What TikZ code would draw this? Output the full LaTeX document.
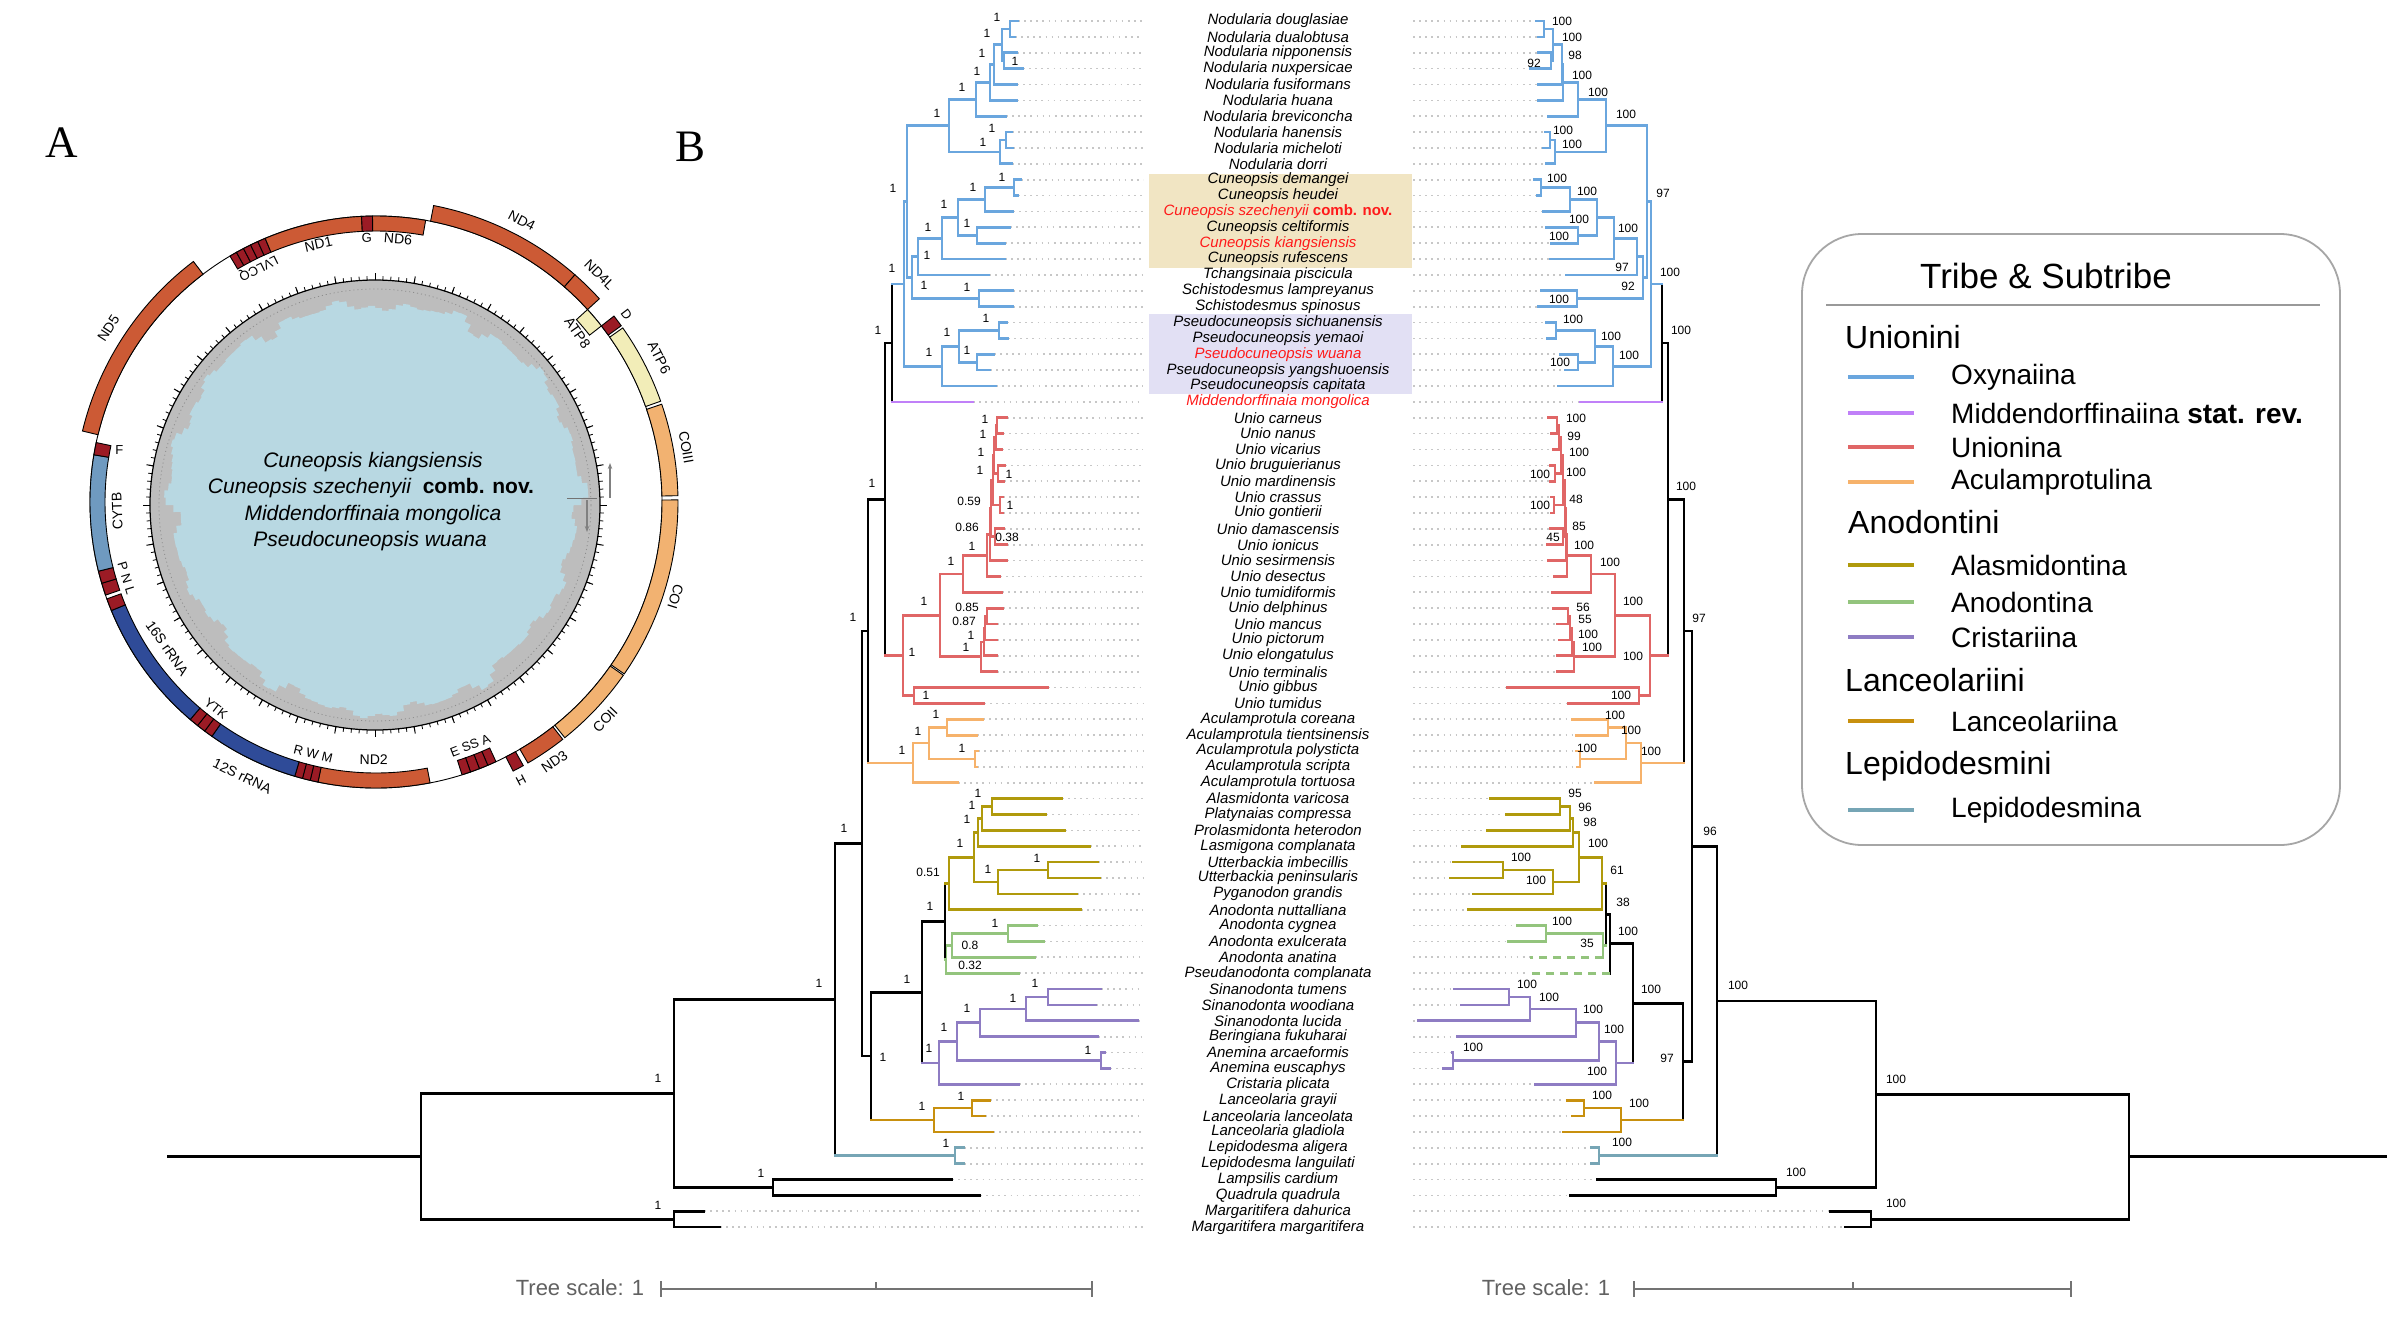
\documentclass[tikz,border=0pt]{standalone}
\usepackage{fontspec}
\setmainfont{Liberation Sans}
\newfontfamily\serifA{Liberation Serif}
\usetikzlibrary{calc,arrows.meta}
\definecolor{cOx}{HTML}{6AA6DE}
\definecolor{cMid}{HTML}{C080F8}
\definecolor{cUn}{HTML}{E06666}
\definecolor{cAc}{HTML}{F6B26B}
\definecolor{cAl}{HTML}{B09A0C}
\definecolor{cAn}{HTML}{93C47D}
\definecolor{cCr}{HTML}{8E7CC3}
\definecolor{cLa}{HTML}{C8900E}
\definecolor{cLe}{HTML}{76A5B5}
\definecolor{gND}{HTML}{CC5A35}
\definecolor{gCO}{HTML}{F2B271}
\definecolor{gATP}{HTML}{F2EDB8}
\definecolor{gCY}{HTML}{6F9AC0}
\definecolor{gRR}{HTML}{2F4B98}
\definecolor{gT}{HTML}{9B1B25}
\definecolor{hlTan}{HTML}{F1E5C3}
\definecolor{hlLav}{HTML}{E2E0F4}
\definecolor{gcGray}{HTML}{BDBDBD}
\definecolor{gcBlue}{HTML}{B8D8E2}
\definecolor{spred}{HTML}{FF1A1A}
\tikzset{
 br/.style={line width=2.7pt, line cap=rect},
 c-ox/.style={draw=cOx}, c-mid/.style={draw=cMid}, c-un/.style={draw=cUn},
 c-ac/.style={draw=cAc}, c-al/.style={draw=cAl}, c-an/.style={draw=cAn},
 c-anD/.style={draw=cAn, dash pattern=on 8pt off 6pt, line cap=butt},
 c-cr/.style={draw=cCr}, c-la/.style={draw=cLa}, c-le/.style={draw=cLe},
 c-k/.style={draw=black},
 lead/.style={draw=black!22, line width=1.7pt, dash pattern=on 1.7pt off 4.4pt},
 sp/.style={font=\fontsize{15}{15}\selectfont\itshape, inner sep=0pt},
 sup/.style={font=\fontsize{12}{12}\selectfont, inner sep=0pt},
 gl/.style={font=\fontsize{14}{14}\selectfont, inner sep=0pt},
 gls/.style={font=\fontsize{13}{13}\selectfont, inner sep=0pt},
 lgh/.style={font=\fontsize{32}{32}\selectfont, anchor=west, inner sep=0pt},
 lgi/.style={font=\fontsize{28}{28}\selectfont, anchor=west, inner sep=0pt},
 lgl/.style={line width=4.5pt},
 tsc/.style={font=\fontsize{22}{22}\selectfont, text=black!62, inner sep=0pt},
 tbar/.style={draw=black!55, line width=2pt},
}
\newcommand\hbr[2]{\edef\tmpH{\noexpand\draw[br,c-\csname tc@#2\endcsname] (#1 |- #2) -- (#2);}\tmpH}
\newcommand\nd[5]{%
 \coordinate (m#1) at ($(#3)!0.5!(#4)$);
 \coordinate (x#1) at (#2,0);
 \coordinate (#1) at (x#1 |- m#1);
 \expandafter\xdef\csname tc@#1\endcsname{#5}%
 \draw[br,c-#5] (#1 |- #3) -- (#1 |- #4);
 \hbr{#1}{#3}\hbr{#1}{#4}}
\newcommand\gs[5]{\filldraw[fill=#5, draw=black, line width=0.9pt]
 ({90-(#1)}:#4) arc[start angle={90-(#1)}, end angle={90-(#2)}, radius=#4]
 -- ({90-(#2)}:#3) arc[start angle={90-(#2)}, end angle={90-(#1)}, radius=#3] -- cycle;}
\def\Ri{271}\def\Rm{286}\def\Ro{302}
\begin{document}
\begin{tikzpicture}[x=1pt,y=-1pt]
\path[use as bounding box, fill=white] (0,0) rectangle (2401,1320);
% highlight boxes
\fill[hlTan] (1149,174) rectangle (1412,268);
\fill[hlLav] (1149,314) rectangle (1412,394);
% tips
\foreach \ri/\xl/\xr/\cc in {
1/1018/1536/ox,2/1015/1538/ox,3/1017/1538/ox,4/1023/1530/ox,5/1017/1538/ox,6/1017/1538/ox,
7/1006/1548/ox,8/1012/1545/ox,9/1013/1543/ox,10/1012/1546/ox,11/1021/1534/ox,12/1018/1537/ox,
13/1013/1543/ox,14/1010/1546/ox,15/1005/1551/ox,16/1005/1550/ox,17/989/1566/ox,18/1013/1541/ox,
19/1013/1538/ox,20/1007/1546/ox,21/1008/1547/ox,22/994/1560/ox,23/990/1565/ox,24/996/1558/ox,
25/973/1580/mid,26/1007/1548/un,27/1003/1551/un,28/1002/1553/un,29/1005/1550/un,30/1004/1550/un,
31/1003/1551/un,32/1003/1551/un,33/1004/1550/un,34/1007/1547/un,35/1007/1548/un,36/1000/1554/un,
37/1002/1552/un,38/1003/1553/un,39/997/1557/un,40/997/1559/un,41/997/1557/un,42/997/1557/un,
43/1048/1507/un,44/984/1568/un,45/983/1572/ac,46/977/1576/ac,47/978/1576/ac,48/977/1577/ac,
49/958/1595/ac,50/1062/1490/al,51/1046/1506/al,52/1065/1487/al,53/1090/1462/al,54/1098/1453/al,
55/1100/1450/al,56/1077/1473/al,57/1081/1468/al,58/1037/1517/an,59/1044/1508/an,60/1035/1530/an,
61/1019/1527/an,62/1101/1454/cr,63/1096/1461/cr,64/1138/1418/cr,65/1098/1457/cr,66/1105/1452/cr,
67/1110/1443/cr,68/1019/1535/cr,69/990/1567/la,70/985/1572/la,71/993/1563/la,72/964/1591/le,
73/964/1591/le,74/952/1597/k,75/980/1570/k,76/704/1830/k,77/720/1845/k}{
 \coordinate (L\ri) at (\xl,{21+(\ri-1)*15.87});
 \coordinate (R\ri) at (\xr,{21+(\ri-1)*15.87});
 \expandafter\xdef\csname tc@L\ri\endcsname{\cc}
 \expandafter\xdef\csname tc@R\ri\endcsname{\cc}
}
\expandafter\gdef\csname tc@R60\endcsname{anD}
\expandafter\gdef\csname tc@R61\endcsname{anD}
% leaders
\coordinate (ldot) at (1143,0); \coordinate (rdot) at (1413,0);
\foreach \ri in {1,...,77}{\draw[lead] (L\ri) -- (L\ri -| ldot); \draw[lead] (rdot |- R\ri) -- (R\ri);}
% species names
\foreach \ri/\nm in {1/Nodularia douglasiae,2/Nodularia dualobtusa,3/Nodularia nipponensis,
4/Nodularia nuxpersicae,5/Nodularia fusiformans,6/Nodularia huana,7/Nodularia breviconcha,
8/Nodularia hanensis,9/Nodularia micheloti,10/Nodularia dorri,11/Cuneopsis demangei,
12/Cuneopsis heudei,13/{\color{spred}Cuneopsis szechenyii \textbf{\upshape comb. nov.}},
14/Cuneopsis celtiformis,15/{\color{spred}Cuneopsis kiangsiensis},16/Cuneopsis rufescens,
17/Tchangsinaia piscicula,18/Schistodesmus lampreyanus,19/Schistodesmus spinosus,
20/Pseudocuneopsis sichuanensis,21/Pseudocuneopsis yemaoi,22/{\color{spred}Pseudocuneopsis wuana},
23/Pseudocuneopsis yangshuoensis,24/Pseudocuneopsis capitata,25/{\color{spred}Middendorffinaia mongolica},
26/Unio carneus,27/Unio nanus,28/Unio vicarius,29/Unio bruguierianus,30/Unio mardinensis,
31/Unio crassus,32/Unio gontierii,33/Unio damascensis,34/Unio ionicus,35/Unio sesirmensis,
36/Unio desectus,37/Unio tumidiformis,38/Unio delphinus,39/Unio mancus,40/Unio pictorum,
41/Unio elongatulus,42/Unio terminalis,43/Unio gibbus,44/Unio tumidus,45/Aculamprotula coreana,
46/Aculamprotula tientsinensis,47/Aculamprotula polysticta,48/Aculamprotula scripta,
49/Aculamprotula tortuosa,50/Alasmidonta varicosa,51/Platynaias compressa,52/Prolasmidonta heterodon,
53/Lasmigona complanata,54/Utterbackia imbecillis,55/Utterbackia peninsularis,56/Pyganodon grandis,
57/Anodonta nuttalliana,58/Anodonta cygnea,59/Anodonta exulcerata,60/Anodonta anatina,
61/Pseudanodonta complanata,62/Sinanodonta tumens,63/Sinanodonta woodiana,64/Sinanodonta lucida,
65/Beringiana fukuharai,66/Anemina arcaeformis,67/Anemina euscaphys,68/Cristaria plicata,
69/Lanceolaria grayii,70/Lanceolaria lanceolata,71/Lanceolaria gladiola,72/Lepidodesma aligera,
73/Lepidodesma languilati,74/Lampsilis cardium,75/Quadrula quadrula,76/Margaritifera dahurica,
77/Margaritifera margaritifera}{
 \node[sp] (S\ri) at (1278,{21+(\ri-1)*15.87}) {\nm};
}
% ---------------- left tree ----------------
\nd{Ln1}{1010}{L1}{L2}{ox}
\nd{Ln2}{1004}{L3}{L4}{ox}
\nd{Ln3}{1002}{Ln1}{Ln2}{ox}
\nd{Ln4}{994}{Ln3}{L5}{ox}
\nd{Ln5}{990}{Ln4}{L6}{ox}
\nd{Ln6}{976}{Ln5}{L7}{ox}
\nd{Ln7}{1006}{L8}{L9}{ox}
\nd{Ln8}{1000}{Ln7}{L10}{ox}
\nd{Ln9}{949}{Ln6}{Ln8}{ox}
\nd{Lc1}{1014}{L11}{L12}{ox}
\nd{Lc2}{985}{Lc1}{L13}{ox}
\nd{Lc3}{977}{L14}{L15}{ox}
\nd{Lc4}{958}{Lc2}{Lc3}{ox}
\nd{Lc5}{942}{Lc4}{L16}{ox}
\nd{Lc6}{918}{Lc5}{L17}{ox}
\nd{Ls1}{979}{L18}{L19}{ox}
\nd{Lc7}{912}{Lc6}{Ls1}{ox}
\nd{Lp1}{999}{L20}{L21}{ox}
\nd{Lp2}{977}{L22}{L23}{ox}
\nd{Lp3}{959}{Lp1}{Lp2}{ox}
\nd{Lp4}{942}{Lp3}{L24}{ox}
\nd{Lo1}{907}{Ln9}{Lc7}{ox}
\nd{Lo2}{904}{Lo1}{Lp4}{ox}
\nd{Lm1}{892}{Lo2}{L25}{k}
\nd{LuA}{997}{L26}{L27}{un}
\nd{LuB}{996}{LuA}{L28}{un}
\nd{LuC}{998}{L29}{L30}{un}
\nd{LuD}{994}{LuB}{LuC}{un}
\nd{LuE}{1000}{L31}{L32}{un}
\nd{LuF}{993}{LuD}{LuE}{un}
\nd{LuG}{995}{L33}{L34}{un}
\nd{LuH}{991}{LuF}{LuG}{un}
\nd{LuI}{990}{LuH}{L35}{un}
\nd{LuJ}{987}{LuI}{L36}{un}
\nd{LuK}{963}{LuJ}{L37}{un}
\nd{LuLa}{987}{L38}{L39}{un}
\nd{LuLb}{985}{LuLa}{L40}{un}
\nd{LuLc}{984}{LuLb}{L41}{un}
\nd{LuLd}{981}{LuLc}{L42}{un}
\nd{LuM}{940}{LuK}{LuLd}{un}
\nd{LuN}{914}{L43}{L44}{un}
\nd{LUn}{903}{LuM}{LuN}{un}
\nd{Lm2}{885}{Lm1}{LUn}{k}
\nd{La1}{947}{L45}{L46}{ac}
\nd{La2}{975}{L47}{L48}{ac}
\nd{La3}{929}{La1}{La2}{ac}
\nd{La4}{913}{La3}{L49}{ac}
\nd{Lm3}{868}{Lm2}{La4}{k}
\nd{Lal1}{992}{L50}{L51}{al}
\nd{Lal2}{982}{Lal1}{L52}{al}
\nd{Lal3}{978}{Lal2}{L53}{al}
\nd{Lal4}{1048}{L54}{L55}{al}
\nd{Lal5}{998}{Lal4}{L56}{al}
\nd{Lal6}{974}{Lal3}{Lal5}{al}
\nd{Lal7}{949}{Lal6}{L57}{al}
\nd{Lan1}{1008}{L58}{L59}{an}
\nd{Lan2}{952}{Lan1}{L60}{an}
\nd{Lan3}{946}{Lan2}{L61}{an}
\nd{LAN}{945}{Lal7}{Lan3}{k}
\nd{Lcr1}{1048}{L62}{L63}{cr}
\nd{Lcr2}{1026}{Lcr1}{L64}{cr}
\nd{Lcr3}{980}{Lcr2}{L65}{cr}
\nd{Lcr4}{1101}{L66}{L67}{cr}
\nd{Lcr5}{957}{Lcr3}{Lcr4}{cr}
\nd{Lcr6}{939}{Lcr5}{L68}{cr}
\nd{LB1}{922}{LAN}{Lcr6}{k}
\nd{Lla1}{972}{L69}{L70}{la}
\nd{Lla2}{934}{Lla1}{L71}{la}
\nd{LB2}{871}{LB1}{Lla2}{k}
\nd{LB3}{862}{Lm3}{LB2}{k}
\nd{Lle1}{955}{L72}{L73}{le}
\nd{LB4}{835}{LB3}{Lle1}{k}
\nd{Llq}{773}{L74}{L75}{k}
\nd{LB5}{674}{LB4}{Llq}{k}
\nd{Lmg}{674}{L76}{L77}{k}
\nd{LR}{421}{LB5}{Lmg}{k}
\coordinate (Lstub) at (168,0);
\draw[br,c-k] (LR) -- (LR -| Lstub);
% ---------------- right tree ----------------
\nd{Rn1}{1544}{R1}{R2}{ox}
\nd{Rn2}{1551}{R3}{R4}{ox}
\nd{Rn3}{1553}{Rn1}{Rn2}{ox}
\nd{Rn4}{1562}{Rn3}{R5}{ox}
\nd{Rn5}{1563}{Rn4}{R6}{ox}
\nd{Rn6}{1578}{Rn5}{R7}{ox}
\nd{Rn7}{1550}{R8}{R9}{ox}
\nd{Rn8}{1555}{Rn7}{R10}{ox}
\nd{Rn9}{1606}{Rn6}{Rn8}{ox}
\nd{Rc1}{1541}{R11}{R12}{ox}
\nd{Rc2}{1570}{Rc1}{R13}{ox}
\nd{Rc3}{1578}{R14}{R15}{ox}
\nd{Rc4}{1597}{Rc2}{Rc3}{ox}
\nd{Rc5}{1614}{Rc4}{R16}{ox}
\nd{Rc6}{1637}{Rc5}{R17}{ox}
\nd{Rs1}{1577}{R18}{R19}{ox}
\nd{Rc7}{1643}{Rc6}{Rs1}{ox}
\nd{Rp1}{1556}{R20}{R21}{ox}
\nd{Rp2}{1578}{R22}{R23}{ox}
\nd{Rp3}{1595}{Rp1}{Rp2}{ox}
\nd{Rp4}{1613}{Rp3}{R24}{ox}
\nd{Ro1}{1647}{Rn9}{Rc7}{ox}
\nd{Ro2}{1651}{Ro1}{Rp4}{ox}
\nd{Rm1}{1662}{Ro2}{R25}{k}
\nd{RuA}{1557}{R26}{R27}{un}
\nd{RuB}{1559}{RuA}{R28}{un}
\nd{RuC}{1555}{R29}{R30}{un}
\nd{RuD}{1561}{RuB}{RuC}{un}
\nd{RuE}{1554}{R31}{R32}{un}
\nd{RuF}{1563}{RuD}{RuE}{un}
\nd{RuG}{1563}{R33}{R34}{un}
\nd{RuH}{1565}{RuF}{RuG}{un}
\nd{RuI}{1566}{RuH}{R35}{un}
\nd{RuJ}{1567}{RuI}{R36}{un}
\nd{RuK}{1591}{RuJ}{R37}{un}
\nd{RuLa}{1568}{R38}{R39}{un}
\nd{RuLb}{1570}{RuLa}{R40}{un}
\nd{RuLc}{1572}{RuLb}{R41}{un}
\nd{RuLd}{1574}{RuLc}{R42}{un}
\nd{RuM}{1615}{RuK}{RuLd}{un}
\nd{RuN}{1639}{R43}{R44}{un}
\nd{RUn}{1650}{RuM}{RuN}{un}
\nd{Rm2}{1668}{Rm1}{RUn}{k}
\nd{Ra1}{1608}{R45}{R46}{ac}
\nd{Ra2}{1580}{R47}{R48}{ac}
\nd{Ra3}{1626}{Ra1}{Ra2}{ac}
\nd{Ra4}{1641}{Ra3}{R49}{ac}
\nd{Rm3}{1684}{Rm2}{Ra4}{k}
\nd{Ral1}{1560}{R50}{R51}{al}
\nd{Ral2}{1570}{Ral1}{R52}{al}
\nd{Ral3}{1573}{Ral2}{R53}{al}
\nd{Ral4}{1503}{R54}{R55}{al}
\nd{Ral5}{1553}{Ral4}{R56}{al}
\nd{Ral6}{1579}{Ral3}{Ral5}{al}
\nd{Ral7}{1602}{Ral6}{R57}{al}
\nd{Ran1}{1546}{R58}{R59}{an}
\nd{Ran2}{1603}{Ran1}{R60}{an}
\nd{RAN1}{1606}{Ral7}{Ran2}{k}
\nd{RAN2}{1610}{RAN1}{R61}{k}
\nd{Rcr1}{1509}{R62}{R63}{cr}
\nd{Rcr2}{1530}{Rcr1}{R64}{cr}
\nd{Rcr3}{1576}{Rcr2}{R65}{cr}
\nd{Rcr4}{1453}{R66}{R67}{cr}
\nd{Rcr5}{1599}{Rcr3}{Rcr4}{cr}
\nd{Rcr6}{1616}{Rcr5}{R68}{cr}
\nd{RB1}{1633}{RAN2}{Rcr6}{k}
\nd{Rla1}{1584}{R69}{R70}{la}
\nd{Rla2}{1621}{Rla1}{R71}{la}
\nd{RB2}{1683}{RB1}{Rla2}{k}
\nd{RB3}{1692}{Rm3}{RB2}{k}
\nd{Rle1}{1599}{R72}{R73}{le}
\nd{RB4}{1717}{RB3}{Rle1}{k}
\nd{Rlq}{1776}{R74}{R75}{k}
\nd{RB5}{1876}{RB4}{Rlq}{k}
\nd{Rmg}{1871}{R76}{R77}{k}
\nd{RR}{2129}{RB5}{Rmg}{k}
\coordinate (Rstub) at (2386,0);
\draw[br,c-k] (RR) -- (RR -| Rstub);
% support values, left
\foreach \x/\y/\t [count=\i] in {997/17/1,1015/61/1,987/33/1,982/53/1,977/71/1,962/87/1,992/128/1,
983/142/1,937/113/1,1002/177/1,973/187/1,967/223/1,944/204/1,928/227/1,927/255/1,967/287/1,
924/285/1,986/318/1,967/350/1,947/332/1,929/352/1,893/188/1,892/268/1,878/330/1,872/483/1,
853/617/1,985/419/1,983/434/1,981/452/1,1009/474/1,980/470/1,1010/505/1,1007/537/0.38,
969/501/0.59,967/527/0.86,972/546/1,951/561/1,967/607/0.85,964/621/0.87,971/635/1,966/647/1,
924/601/1,926/695/1,912/652/1,936/714/1,962/748/1,918/731/1,902/750/1,978/793/1,972/805/1,
967/819/1,1037/858/1,988/869/1,960/843/1,928/872/0.51,930/906/1,995/923/1,970/945/0.8,
970/965/0.32,1035/983/1,1013/998/1,967/1008/1,1088/1050/1,944/1027/1,929/1048/1,907/979/1,
961/1096/1,922/1106/1,883/1057/1,844/828/1,819/983/1,946/1143/1,761/1173/1,658/1078/1,658/1205/1}
 {\node[sup] (sl\i) at (\x,\y) {\t};}
% support values, right
\foreach \x/\y/\t [count=\i] in {1562/21/100,1534/63/92,1572/37/100,1575/55/98,1582/75/100,
1598/92/100,1563/130/100,1572/144/100,1626/114/100,1557/178/100,1587/191/100,1559/236/100,
1579/219/100,1628/228/100,1622/267/97,1559/299/100,1628/286/92,1573/319/100,1560/362/100,
1611/336/100,1629/355/100,1663/193/97,1670/272/100,1681/330/100,1686/486/100,1699/618/97,
1576/418/100,1574/436/99,1579/452/100,1540/474/100,1576/472/100,1540/505/100,1553/537/45,
1576/499/48,1579/526/85,1584/545/100,1610/562/100,1583/607/56,1585/619/55,1588/634/100,
1592/647/100,1633/601/100,1621/695/100,1633/656/100,1615/715/100,1587/748/100,1631/730/100,
1651/751/100,1575/793/95,1585/807/96,1590/822/98,1521/857/100,1536/880/100,1598/843/100,
1617/870/61,1623/902/38,1562/921/100,1587/943/35,1628/931/100,1527/984/100,1549/997/100,
1593/1009/100,1473/1047/100,1614/1029/100,1597/1071/100,1651/989/100,1602/1095/100,
1639/1103/100,1667/1058/97,1710/831/96,1622/1142/100,1738/985/100,1796/1172/100,
1896/1079/100,1896/1203/100}
 {\node[sup] (sr\i) at (\x,\y) {\t};}
% ---------------- legend ----------------
\draw[black!35, line width=1.8pt, rounded corners=60pt] (1802,234) rectangle (2340,845);
\node[font=\fontsize{35}{35}\selectfont, inner sep=0pt] (lgT) at (2046,276) {Tribe \& Subtribe};
\draw[black!40, line width=1.5pt] (1826,305) -- (2320,305);
\node[lgh] (lgU) at (1845,337) {Unionini};
\node[lgh] (lgA) at (1848,522) {Anodontini};
\node[lgh] (lgLa) at (1845,680) {Lanceolariini};
\node[lgh] (lgLe) at (1845,766) {Lepidodesmini};
\foreach \y/\cl/\nm [count=\i] in {377/cOx/Oxynaiina,413/cMid/{Middendorffinaiina \textbf{stat. rev.}},
447/cUn/Unionina,482/cAc/Aculamprotulina,565/cAl/Alasmidontina,602/cAn/Anodontina,
637/cCr/Cristariina,721/cLa/Lanceolariina,810/cLe/Lepidodesmina}{
 \draw[lgl, draw=\cl] (1848,\y) -- (1914,\y);
 \node[lgi] (lgi\i) at (1951,\y) {\nm};
}
% ---------------- tree scales ----------------
\node[tsc] (tsL) at (580,1288) {Tree scale: 1};
\draw[tbar] (661,1289) -- (1092,1289);
\draw[tbar] (661,1281) -- (661,1297); \draw[tbar] (1092,1281) -- (1092,1297);
\draw[tbar] (876,1289) -- (876,1282);
\node[tsc] (tsR) at (1546,1288) {Tree scale: 1};
\draw[tbar] (1634,1289) -- (2071,1289);
\draw[tbar] (1634,1281) -- (1634,1297); \draw[tbar] (2071,1281) -- (2071,1297);
\draw[tbar] (1853,1289) -- (1853,1282);
% ---------------- panel labels ----------------
\node[font=\serifA\fontsize{45}{45}\selectfont, inner sep=0pt] (pA) at (62,143) {A};
\node[font=\serifA\fontsize{45}{45}\selectfont, inner sep=0pt] (pB) at (690,147) {B};
% ---------------- gene map ----------------
\begin{scope}[shift={(375,505)}, y=1pt]
 \fill[gcGray] (0,0) circle (225);
 \fill[gcBlue] (0:{204+3*sin(10)}) \foreach \a in {0,2,...,358}{
   -- ({\a}:{204+4*sin(3*\a)+3*sin(11*\a+40)+3*sin(23*\a)+2.5*sin(29*\a+10)+2*sin(41*\a)})
   -- ({\a+2}:{204+4*sin(3*\a)+3*sin(11*\a+40)+3*sin(23*\a)+2.5*sin(29*\a+10)+2*sin(41*\a)})} -- cycle;
 \draw[black!45, line width=0.8pt, dash pattern=on 1pt off 3pt] (0,0) circle (216);
 \draw[black, line width=1.2pt] (0,0) circle (225);
 \foreach \a in {0,2,...,358} \draw[line width=0.8pt] (\a:225) -- (\a:229);
 \foreach \a in {0,10,...,350} \draw[line width=1pt] (\a:225) -- (\a:232);
\end{scope}
\begin{scope}[shift={(376,502)}, y=1pt]
 \draw[line width=0.9pt] (0,0) circle (\Rm);
 % outer level
 \gs{11}{41.2}{\Rm}{\Ro}{gND}
 \gs{41.2}{47.7}{\Rm}{\Ro}{gND}
 \gs{52}{54.3}{\Rm}{\Ro}{gT}
 \gs{54.8}{70.5}{\Rm}{\Ro}{gATP}
 \gs{71.1}{88.8}{\Rm}{\Ro}{gCO}
 \gs{89.6}{124.7}{\Rm}{\Ro}{gCO}
 \gs{125}{141.3}{\Rm}{\Ro}{gCO}
 \gs{141.8}{149.8}{\Rm}{\Ro}{gND}
 \gs{150.8}{153}{\Rm}{\Ro}{gT}
 \gs{283.6}{322.8}{\Rm}{\Ro}{gND}
 % inner level
 \gs{47.7}{52}{\Ri}{\Rm}{gATP}
 \gs{155.2}{157}{\Ri}{\Rm}{gT}
 \gs{157}{158.8}{\Ri}{\Rm}{gT}
 \gs{158.8}{160.7}{\Ri}{\Rm}{gT}
 \gs{160.7}{162.5}{\Ri}{\Rm}{gT}
 \gs{169.1}{191.7}{\Ri}{\Rm}{gND}
 \gs{191.7}{193.3}{\Ri}{\Rm}{gT}
 \gs{193.3}{194.9}{\Ri}{\Rm}{gT}
 \gs{194.9}{196.5}{\Ri}{\Rm}{gT}
 \gs{196.5}{215}{\Ri}{\Rm}{gRR}
 \gs{215}{216.8}{\Ri}{\Rm}{gT}
 \gs{216.8}{218.6}{\Ri}{\Rm}{gT}
 \gs{218.6}{220.5}{\Ri}{\Rm}{gT}
 \gs{220.5}{247.7}{\Ri}{\Rm}{gRR}
 \gs{247.7}{250.2}{\Ri}{\Rm}{gT}
 \gs{251}{253.5}{\Ri}{\Rm}{gT}
 \gs{253.5}{256}{\Ri}{\Rm}{gT}
 \gs{256}{279.5}{\Ri}{\Rm}{gCY}
 \gs{279.5}{282}{\Ri}{\Rm}{gT}
 \gs{329.3}{330.8}{\Ri}{\Rm}{gT}
 \gs{330.8}{332.4}{\Ri}{\Rm}{gT}
 \gs{332.4}{334}{\Ri}{\Rm}{gT}
 \gs{334}{335.6}{\Ri}{\Rm}{gT}
 \gs{335.6}{337.2}{\Ri}{\Rm}{gT}
 \gs{337.2}{357.1}{\Ri}{\Rm}{gND}
 \gs{357.1}{359.3}{\Ri}{\Rm}{gT}
 \gs{359.3}{370}{\Ri}{\Rm}{gND}
 % gene labels (angle clockwise from top -> 90-angle)
 \node[gl, rotate=-27.4] (gND4) at ({90-27.4}:317) {ND4};
 \node[gl, rotate=-44.5] (gND4L) at ({90-44.5}:319) {ND4L};
 \node[gls, rotate=-53] (gD) at ({90-53.2}:313) {D};
 \node[gl, rotate=-55] (gATP8) at ({90-50}:263) {ATP8};
 \node[gl, rotate=-63] (gATP6) at ({90-63}:318) {ATP6};
 \node[gl, rotate=-80] (gCOIII) at ({90-80}:315) {COIII};
 \node[gl, rotate=-107.5] (gCOI) at ({90-107.5}:314) {COI};
 \node[gl, rotate=46.5] (gCOII) at ({90-133.5}:316) {COII};
 \node[gl, rotate=34.5] (gND3) at ({90-145.5}:315) {ND3};
 \node[gls, rotate=27.5] (gH) at ({90-152.5}:314) {H};
 \node[gls, rotate=21.2] (gESSA) at ({90-158.8}:261) {E SS A};
 \node[gl, rotate=-0.5] (gND2) at ({90-180.5}:258) {ND2};
 \node[gls, rotate=-14] (gRWM) at ({90-194}:260) {R W M};
 \node[gl, rotate=-26] (g12S) at ({90-206}:305) {12S rRNA};
 \node[gls, rotate=-37.8] (gYTK) at ({90-217.8}:261) {YTK};
 \node[gl, rotate=-55] (g16S) at ({90-235}:255) {16S rRNA};
 \node[gls, rotate=-73] (gPNL) at ({90-253}:261) {P\hspace{4pt}N\hspace{4pt}L};
 \node[gl, rotate=92] (gCYTB) at ({90-268}:259) {CYTB};
 \node[gls] (gF) at ({90-281.5}:262) {F};
 \node[gl, rotate=57] (gND5) at ({90-303}:319) {ND5};
 \node[gls, rotate=206.7] (gtr) at ({90-333.3}:262) {LVLCQ};
 \node[gl, rotate=12.6] (gND1) at ({90-347.4}:264) {ND1};
 \node[gls, rotate=2] (gG) at ({90-358}:264) {G};
 \node[gl, rotate=-4.8] (gND6) at ({90-4.8}:264) {ND6};
\end{scope}
\draw[black!55, line width=0.8pt] (567,498) -- (597,498);
\draw[-{Stealth[length=6pt]}, black!50, line width=2pt] (610,498) -- (610,463);
\draw[-{Stealth[length=6pt]}, black!50, line width=2pt] (587,500) -- (587,532);
% centre text
\begin{scope}[every node/.style={font=\fontsize{21}{21}\selectfont\itshape, inner sep=0pt}]
\node (ct1) at (373,462) {Cuneopsis kiangsiensis};
\node (ct2) at (371,488) {Cuneopsis szechenyii\ \ \textbf{\upshape comb. nov.}};
\node (ct3) at (373,515) {Middendorffinaia mongolica};
\node (ct4) at (370,541) {Pseudocuneopsis wuana};
\end{scope}
\end{tikzpicture}
\end{document}
